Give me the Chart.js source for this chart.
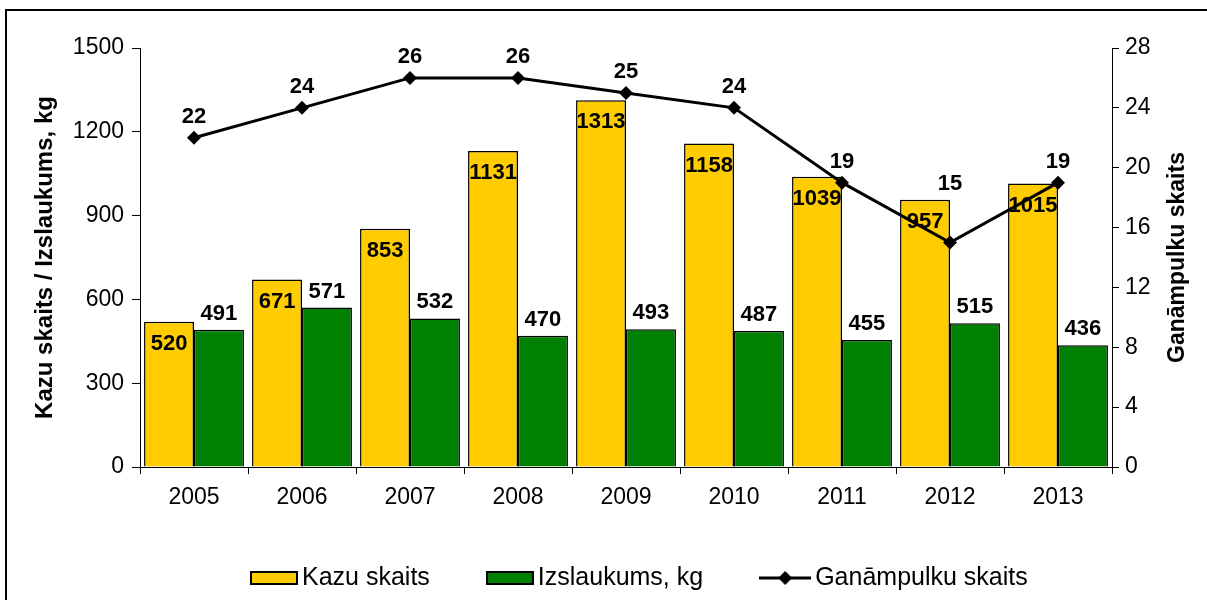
<!DOCTYPE html>
<html>
<head>
<meta charset="utf-8">
<script src="https://cdn.jsdelivr.net/npm/chart.js@4/dist/chart.umd.min.js"></script>
<style>
  html, body { margin: 0; padding: 0; background: #fff; }
  #wrap { position: relative; width: 1207px; height: 600px; }
</style>
</head>
<body>
<div id="wrap"><canvas id="chart" width="1207" height="600"></canvas></div>
<script>
const years = ['2005', '2006', '2007', '2008', '2009', '2010', '2011', '2012', '2013'];
const kazuSkaits = [520, 671, 853, 1131, 1313, 1158, 1039, 957, 1015];
const izslaukums = [491, 571, 532, 470, 493, 487, 455, 515, 436];
const ganampulki = [22, 24, 26, 26, 25, 24, 19, 15, 19];
const leftTicks = [0, 300, 600, 900, 1200, 1500];
const rightTicks = [0, 4, 8, 12, 16, 20, 24, 28];

const FONT = '"Liberation Sans", Arial, Helvetica, sans-serif';

// legend icons as small canvases
function boxIcon(color) {
  const c = document.createElement('canvas');
  c.width = 48; c.height = 14;
  const g = c.getContext('2d');
  g.fillStyle = color;
  g.fillRect(1, 1, 46, 12);
  g.strokeStyle = '#000';
  g.lineWidth = 2;
  g.strokeRect(1, 1, 46, 12);
  return c;
}
function lineIcon() {
  const c = document.createElement('canvas');
  c.width = 52; c.height = 16;
  const g = c.getContext('2d');
  g.strokeStyle = '#000';
  g.lineWidth = 3;
  g.beginPath(); g.moveTo(0, 8); g.lineTo(52, 8); g.stroke();
  g.fillStyle = '#000';
  g.beginPath(); g.moveTo(26, 1); g.lineTo(33, 8); g.lineTo(26, 15); g.lineTo(19, 8); g.closePath(); g.fill();
  return c;
}

// outer frame, axis titles and the legend
const decor = {
  id: 'decor',
  beforeDraw(chart) {
    const ctx = chart.ctx;
    ctx.save();
    ctx.strokeStyle = '#000';
    ctx.lineWidth = 2;
    ctx.strokeRect(6, 10, 1220, 620);
    ctx.restore();
  },
  afterDraw(chart) {
    const ctx = chart.ctx;
    const area = chart.chartArea;
    const midY = (area.top + area.bottom) / 2;
    ctx.save();
    ctx.fillStyle = '#000';
    ctx.font = 'bold 24px ' + FONT;
    ctx.textAlign = 'center';
    ctx.textBaseline = 'middle';
    ctx.translate(45, midY);
    ctx.rotate(-Math.PI / 2);
    ctx.fillText('Kazu skaits / Izslaukums, kg', 0, 0);
    ctx.restore();

    ctx.save();
    ctx.fillStyle = '#000';
    ctx.font = 'bold 23px ' + FONT;
    ctx.textAlign = 'center';
    ctx.textBaseline = 'middle';
    ctx.translate(1178, midY);
    ctx.rotate(-Math.PI / 2);
    ctx.fillText('Ganāmpulku skaits', 0, 0);
    ctx.restore();

    // legend
    const items = [
      { icon: boxIcon('#FFCC00'), text: 'Kazu skaits' },
      { icon: boxIcon('#008000'), text: 'Izslaukums, kg' },
      { icon: lineIcon(), text: 'Ganāmpulku skaits' }
    ];
    ctx.save();
    ctx.font = '25px ' + FONT;
    ctx.fillStyle = '#000';
    ctx.textBaseline = 'middle';
    ctx.textAlign = 'left';
    let x = 250;
    const y = 578;
    items.forEach(it => {
      ctx.drawImage(it.icon, x, y - it.icon.height / 2);
      x += it.icon.width + 4;
      ctx.fillText(it.text, x, y);
      x += ctx.measureText(it.text).width + 56;
    });
    ctx.restore();
  }
};

// value labels on bars and points
const valueLabels = {
  id: 'valueLabels',
  afterDatasetsDraw(chart, args, opts) {
    const ctx = chart.ctx;
    ctx.save();
    ctx.font = 'bold 22px ' + FONT;
    ctx.fillStyle = '#000';
    ctx.textAlign = 'center';
    ctx.textBaseline = 'middle';
    chart.data.datasets.forEach((ds, i) => {
      const meta = chart.getDatasetMeta(i);
      meta.data.forEach((el, j) => {
        let y = el.y;
        if (ds.labelPos === 'inside') y += 22;
        else if (ds.labelPos === 'above') y -= 16;
        else y -= 21;
        const nudge = (opts.nudge[i] || {})[j] || 0;
        ctx.fillText(String(ds.data[j]), el.x, y + nudge);
      });
    });
    ctx.restore();
  }
};

const axisFont = { family: FONT, size: 23 };

new Chart(document.getElementById('chart'), {
  type: 'bar',
  data: {
    labels: years,
    datasets: [
      {
        type: 'line',
        label: 'Ganāmpulku skaits',
        data: ganampulki,
        yAxisID: 'y1',
        borderColor: '#000',
        backgroundColor: '#000',
        borderWidth: 3,
        pointStyle: 'rectRot',
        pointRadius: 7,
        pointBorderWidth: 0,
        tension: 0,
        order: 0,
        labelPos: 'point'
      },
      {
        label: 'Kazu skaits',
        data: kazuSkaits,
        yAxisID: 'y',
        backgroundColor: '#FFCC00',
        borderColor: '#000',
        borderWidth: 1.5,
        barPercentage: 1,
        categoryPercentage: 0.925,
        order: 1,
        labelPos: 'inside'
      },
      {
        label: 'Izslaukums, kg',
        data: izslaukums,
        yAxisID: 'y',
        backgroundColor: '#008000',
        borderColor: '#000',
        borderWidth: 1.5,
        barPercentage: 1,
        categoryPercentage: 0.925,
        order: 1,
        labelPos: 'above'
      }
    ]
  },
  options: {
    responsive: false,
    animation: false,
    events: [],
    layout: { padding: { top: 48, left: 0, right: 0, bottom: 0 } },
    plugins: {
      legend: { display: false },
      tooltip: { enabled: false },
      valueLabels: { nudge: { 0: { 7: -38 } } }
    },
    scales: {
      x: {
        offset: true,
        grid: { offset: true, drawOnChartArea: false, tickLength: 7, color: '#000' },
        border: { color: '#000', width: 1 },
        ticks: { font: axisFont, color: '#000', padding: 10, maxRotation: 0 },
        afterFit: s => { s.height = 133; }
      },
      y: {
        position: 'left',
        min: 0,
        max: 1500,
        afterBuildTicks: s => { s.ticks = leftTicks.map(v => ({ value: v })); },
        grid: { drawOnChartArea: false, tickLength: 8, color: '#000' },
        border: { color: '#000', width: 1 },
        ticks: { font: axisFont, color: '#000', padding: 8, callback: v => String(v) },
        afterFit: s => { s.width = 140; }
      },
      y1: {
        position: 'right',
        min: 0,
        max: 28,
        afterBuildTicks: s => { s.ticks = rightTicks.map(v => ({ value: v })); },
        grid: { drawOnChartArea: false, tickLength: 7, color: '#000' },
        border: { color: '#000', width: 1 },
        ticks: { font: axisFont, color: '#000', padding: 6, callback: v => String(v) },
        afterFit: s => { s.width = 95; }
      }
    }
  },
  plugins: [decor, valueLabels]
});
</script>
</body>
</html>
